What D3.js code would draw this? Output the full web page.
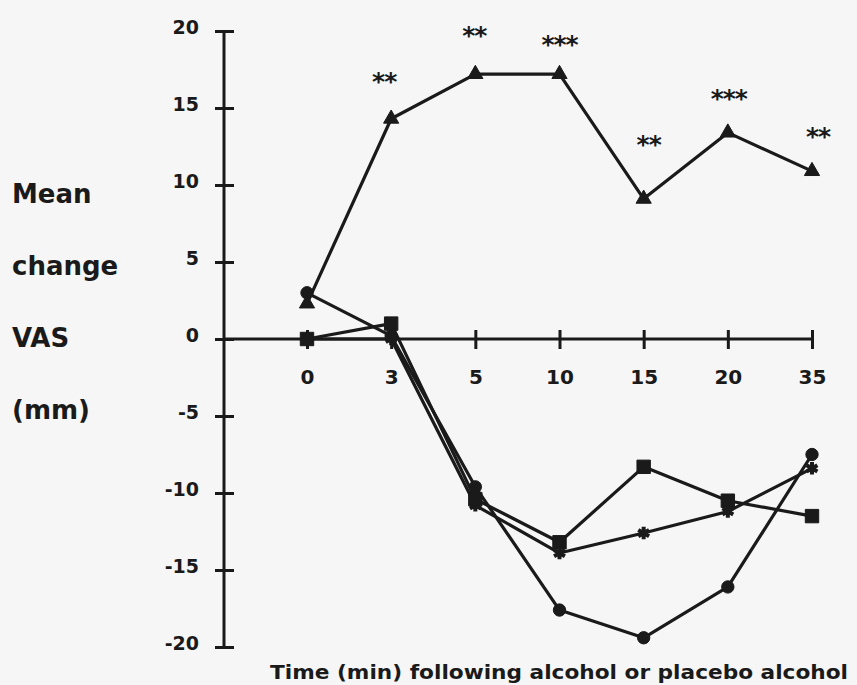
<!DOCTYPE html>
<html>
<head>
<meta charset="utf-8">
<script src="https://cdn.jsdelivr.net/npm/d3@7"></script>
<style>
  body { margin: 0; background: #f6f6f6; }
  svg { display: block; }
  text { font-family: "DejaVu Sans", sans-serif; font-weight: bold; fill: #1a1a1a; }
</style>
</head>
<body>
<div id="chart-area"></div>
<script>
// time points (categorical on the x axis)
var times = ["0", "3", "5", "10", "15", "20", "35"];
var yTicks = [20, 15, 10, 5, 0, -5, -10, -15, -20];

// mean change in VAS (mm)
var alcohol   = [2.3, 14.3, 17.2, 17.2, 9.1, 13.4, 10.9];   // triangles
var circleSer = [3.0, 0.2, -9.6, -17.6, -19.4, -16.1, -7.5];
var squareSer = [0, 1.0, -10.4, -13.2, -8.3, -10.5, -11.5];
var starSer   = [0, 0, -10.8, -13.9, -12.6, -11.2, -8.4];

// significance stars above the alcohol series
var sigLabels = ["", "**", "**", "***", "**", "***", "**"];

var yLabelLines = ["Mean", "change", "VAS", "(mm)"];
var xTitle = "Time (min) following alcohol or placebo alcohol";

var width = 857, height = 685;
var ink = "#1a1a1a";

var svg = d3.select("#chart-area")
  .append("svg")
    .attr("width", width)
    .attr("height", height);

var y = d3.scaleLinear().domain([-20, 20]).range([647, 31]);
var x = d3.scalePoint().domain(times).range([307, 812]);
var axisX = 224;

// y axis
var yAxis = d3.axisLeft(y).tickValues(yTicks).tickSize(0).tickPadding(0)
  .tickFormat(function(d) { return String(d); });
var gy = svg.append("g")
  .attr("transform", "translate(" + axisX + ",0)")
  .call(yAxis);
gy.select(".domain").remove();
gy.append("line")
  .attr("y1", y(20)).attr("y2", y(-20))
  .attr("stroke", ink).attr("stroke-width", 3);
gy.selectAll(".tick").append("line")
  .attr("x1", -9).attr("x2", 10)
  .attr("stroke", ink).attr("stroke-width", 3);
gy.selectAll(".tick text")
  .attr("x", -25)
  .attr("dy", "0.15em")
  .attr("font-size", "19px")
  .attr("fill", ink);

// x axis along zero
var xAxis = d3.axisBottom(x).tickSize(0).tickPadding(0);
var gx = svg.append("g")
  .attr("transform", "translate(0," + y(0) + ")")
  .call(xAxis);
gx.select(".domain").remove();
gx.append("line")
  .attr("x1", axisX).attr("x2", x("35"))
  .attr("stroke", ink).attr("stroke-width", 3);
gx.selectAll(".tick").append("line")
  .attr("y1", -9).attr("y2", 10)
  .attr("stroke", ink).attr("stroke-width", 3);
gx.selectAll(".tick text")
  .attr("y", 45)
  .attr("dy", 0)
  .attr("font-size", "20px")
  .attr("fill", ink);

// lines
var line = d3.line()
  .x(function(d, i) { return x(times[i]); })
  .y(function(d) { return y(d); });

var series = [
  {values: squareSer, symbol: d3.symbolSquare, size: 180, stroke: false},
  {values: starSer, symbol: d3.symbolAsterisk, size: 110, stroke: true},
  {values: circleSer, symbol: d3.symbolCircle, size: 120, stroke: false},
  {values: alcohol, symbol: d3.symbolTriangle, size: 100, stroke: false}
];

series.forEach(function(s) {
  svg.append("path")
    .attr("d", line(s.values))
    .attr("fill", "none")
    .attr("stroke", ink)
    .attr("stroke-width", 3.2)
    .attr("stroke-linejoin", "round");
});

series.forEach(function(s) {
  svg.append("g").selectAll("path")
    .data(s.values)
    .enter()
    .append("path")
      .attr("d", d3.symbol().type(s.symbol).size(s.size))
      .attr("transform", function(d, i) {
        return "translate(" + x(times[i]) + "," + y(d) + ")";
      })
      .attr("fill", s.stroke ? "none" : ink)
      .attr("stroke", ink)
      .attr("stroke-width", s.stroke ? 4 : 1);
});

// significance stars, nudged by hand like the original
var sigDx = [0, -7, -1, 0, 5, 1, 6];
var sigDy = [0, 29, 30, 21, 46, 26, 26];
svg.append("g").selectAll("text")
  .data(sigLabels)
  .enter()
  .append("text")
    .attr("x", function(d, i) { return x(times[i]) + sigDx[i]; })
    .attr("y", function(d, i) { return y(alcohol[i]) - sigDy[i]; })
    .attr("text-anchor", "middle")
    .attr("font-size", "25px")
    .attr("letter-spacing", "-1px")
    .text(function(d) { return d; });

// left label
svg.append("g").selectAll("text")
  .data(yLabelLines)
  .enter()
  .append("text")
    .attr("x", 12)
    .attr("y", function(d, i) { return 203 + i * 72; })
    .attr("font-size", "26px")
    .text(function(d) { return d; });

// x title
svg.append("text")
  .attr("x", 270)
  .attr("y", 679)
  .attr("font-size", "19px")
  .attr("textLength", 578)
  .attr("lengthAdjust", "spacingAndGlyphs")
  .text(xTitle);
</script>
</body>
</html>
